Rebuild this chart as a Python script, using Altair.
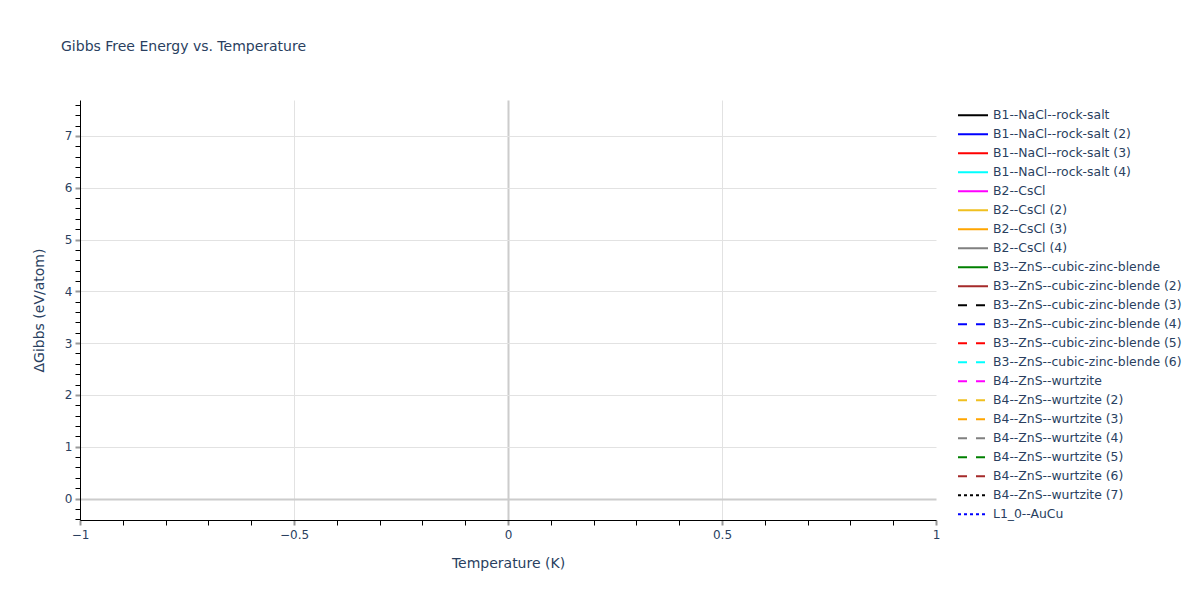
"""Gibbs free energy vs. temperature (sin datos) con leyenda de fases."""

import altair as alt
import pandas as pd

FONT = "DejaVu Sans"
TEXT_COLOR = "#2a3f5f"

# series (no hay puntos en la figura original)
temperature = []
delta_gibbs = []
trace_series = []

series_names = [
    "B1--NaCl--rock-salt",
    "B1--NaCl--rock-salt (2)",
    "B1--NaCl--rock-salt (3)",
    "B1--NaCl--rock-salt (4)",
    "B2--CsCl",
    "B2--CsCl (2)",
    "B2--CsCl (3)",
    "B2--CsCl (4)",
    "B3--ZnS--cubic-zinc-blende",
    "B3--ZnS--cubic-zinc-blende (2)",
    "B3--ZnS--cubic-zinc-blende (3)",
    "B3--ZnS--cubic-zinc-blende (4)",
    "B3--ZnS--cubic-zinc-blende (5)",
    "B3--ZnS--cubic-zinc-blende (6)",
    "B4--ZnS--wurtzite",
    "B4--ZnS--wurtzite (2)",
    "B4--ZnS--wurtzite (3)",
    "B4--ZnS--wurtzite (4)",
    "B4--ZnS--wurtzite (5)",
    "B4--ZnS--wurtzite (6)",
    "B4--ZnS--wurtzite (7)",
    "L1_0--AuCu",
]
series_colors = [
    "black", "blue", "red", "cyan", "magenta", "#f0c020", "orange", "grey",
    "green", "brown", "black", "blue", "red", "cyan", "magenta", "#f0c020",
    "orange", "grey", "green", "brown", "black", "blue",
]
series_dash_styles = ["solid"] * 10 + ["dash"] * 10 + ["dot"] * 2

DASH = {"solid": [1, 0], "dash": [9, 9], "dot": [3, 3]}

x_domain = [-1, 1]
y_domain = [-0.415, 7.694]
x_tick_values = [round(-1 + 0.1 * i, 1) for i in range(21)]
y_tick_values = [round(-0.4 + 0.2 * i, 1) for i in range(41)]

X_MAJOR = "abs(datum.value * 2 - round(datum.value * 2)) < 1e-6"
Y_MAJOR = "abs(datum.value - round(datum.value)) < 1e-6"
LABEL = "(datum.value < 0 ? '\u2212' + format(-datum.value, '') : format(datum.value, ''))"

traces_df = pd.DataFrame(
    {"T": temperature, "G": delta_gibbs, "series": trace_series}
)
legend_df = pd.DataFrame(
    {
        "series": series_names,
        "idx": list(range(len(series_names))),
    }
)

color_scale = alt.Scale(domain=series_names, range=series_colors)
dash_scale = alt.Scale(
    domain=series_names, range=[DASH[d] for d in series_dash_styles]
)

x_axis = alt.Axis(
    values=x_tick_values,
    labelExpr=f"{X_MAJOR} ? {LABEL} : ''",
    title="Temperature (K)",
    titleFontSize=14,
    titleFontWeight="normal",
    titleColor=TEXT_COLOR,
    titleFont=FONT,
    titlePadding=16,
    labelFont=FONT,
    labelFontSize=12,
    labelColor=TEXT_COLOR,
    labelPadding=4,
    labelFlush=False,
    labelOverlap=False,
    domainColor="black",
    domainWidth=1,
    tickSize=5,
    tickColor={"condition": {"test": X_MAJOR, "value": "#999999"}, "value": "black"},
    tickWidth={"condition": {"test": X_MAJOR, "value": 2}, "value": 1},
    grid=True,
    gridColor={"condition": {"test": "datum.value === 0", "value": "#cccccc"}, "value": "#e2e2e2"},
    gridWidth={"condition": {"test": "datum.value === 0", "value": 2}, "value": 1},
    gridOpacity={
        "condition": {"test": f"{X_MAJOR} && abs(datum.value) < 0.99", "value": 1},
        "value": 0,
    },
)

y_axis = alt.Axis(
    values=y_tick_values,
    labelExpr=f"{Y_MAJOR} ? {LABEL} : ''",
    title="\u0394Gibbs (eV/atom)",
    titleFontSize=14,
    titleFontWeight="normal",
    titleColor=TEXT_COLOR,
    titleFont=FONT,
    titlePadding=18,
    labelFont=FONT,
    labelFontSize=12,
    labelColor=TEXT_COLOR,
    labelPadding=3,
    labelFlush=False,
    labelOverlap=False,
    domainColor="black",
    domainWidth=1,
    tickSize=5,
    tickColor={"condition": {"test": Y_MAJOR, "value": "#999999"}, "value": "black"},
    tickWidth={"condition": {"test": Y_MAJOR, "value": 2}, "value": 1},
    grid=True,
    gridColor={"condition": {"test": "datum.value === 0", "value": "#cccccc"}, "value": "#e2e2e2"},
    gridWidth={"condition": {"test": "datum.value === 0", "value": 2}, "value": 1},
    gridOpacity={"condition": {"test": Y_MAJOR, "value": 1}, "value": 0},
)

traces = (
    alt.Chart(traces_df)
    .mark_line(strokeWidth=2)
    .encode(
        x=alt.X("T:Q", scale=alt.Scale(domain=x_domain, nice=False, zero=False), axis=x_axis),
        y=alt.Y("G:Q", scale=alt.Scale(domain=y_domain, nice=False, zero=False), axis=y_axis),
        color=alt.Color("series:N", scale=color_scale, legend=None),
        strokeDash=alt.StrokeDash("series:N", scale=dash_scale, legend=None),
    )
)

# leyenda dibujada a mano: 19 px por fila
legend_y = alt.Y(
    "idx:Q",
    scale=alt.Scale(domain=[-0.805, 21.3], reverse=True, nice=False, zero=False),
    axis=None,
)
legend_lines = (
    alt.Chart(legend_df)
    .mark_rule(strokeWidth=2)
    .encode(
        x=alt.value(878),
        x2=alt.value(908),
        y=legend_y,
        color=alt.Color("series:N", scale=color_scale, legend=None),
        strokeDash=alt.StrokeDash("series:N", scale=dash_scale, legend=None),
    )
)
legend_labels = (
    alt.Chart(legend_df)
    .mark_text(
        align="left",
        baseline="middle",
        font=FONT,
        fontSize=12.4,
        color=TEXT_COLOR,
    )
    .encode(x=alt.value(913), y=legend_y, text="series:N")
)

chart = (
    alt.layer(traces, legend_lines, legend_labels)
    .resolve_scale(y="independent")
    .properties(
        width=856,
        height=420,
        autosize=alt.AutoSizeParams(type="none"),
        padding={"left": 72, "top": 92, "right": 256, "bottom": 72},
        title=alt.TitleParams(
            "Gibbs Free Energy vs. Temperature",
            anchor="start",
            frame="group",
            dx=-19,
            offset=45,
            font=FONT,
            fontSize=14,
            fontWeight="normal",
            color=TEXT_COLOR,
        ),
    )
    .configure_view(stroke=None)
)

chart.save("out.html", embed_options={"renderer": "svg", "actions": False})
